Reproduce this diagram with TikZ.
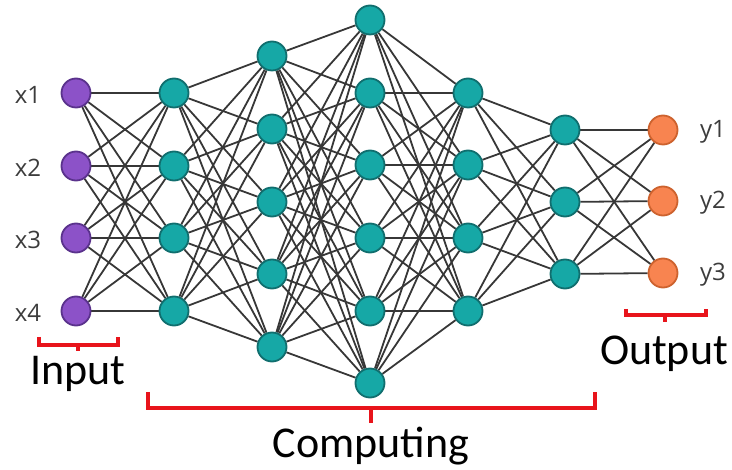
\documentclass[tikz,border=0pt]{standalone}
\usepackage{fontspec}
\setmainfont{Open Sans}
\newfontfamily\calfont{Carlito}
\definecolor{tealfill}{RGB}{22,168,166}
\definecolor{tealline}{RGB}{16,110,110}
\definecolor{purfill}{RGB}{140,82,200}
\definecolor{purline}{RGB}{90,50,140}
\definecolor{orfill}{RGB}{248,132,80}
\definecolor{orline}{RGB}{205,98,46}
\definecolor{edgecol}{RGB}{55,55,55}
\definecolor{brackred}{RGB}{232,20,27}
\definecolor{labcol}{RGB}{60,60,60}
\pgfdeclarelayer{bg}
\pgfsetlayers{bg,main}
\begin{document}
\begin{tikzpicture}[x=1pt,y=-1pt,
  neuron/.style={circle,minimum size=29pt,inner sep=0pt,line width=1.8pt},
  inp/.style={neuron,fill=purfill,draw=purline},
  hid/.style={neuron,fill=tealfill,draw=tealline},
  outp/.style={neuron,fill=orfill,draw=orline},
  link/.style={draw=edgecol,line width=1.8pt},
  lab/.style={font=\fontsize{24}{26}\selectfont,text=labcol,anchor=base,inner sep=0pt},
  big/.style={font=\calfont\fontsize{44}{48}\selectfont,text=black,anchor=base,inner sep=0pt},
  brack/.style={draw=brackred,line width=3.2pt}]
\useasboundingbox (0,0) rectangle (732,470);
% input layer
\foreach \i/\y in {1/93,2/166,3/238,4/311} \node[inp] (a\i) at (76,\y) {};
% hidden 1
\foreach \i/\y in {1/93,2/166,3/238,4/311} \node[hid] (b\i) at (174,\y) {};
% hidden 2
\foreach \i/\y in {1/56,2/129,3/202,4/274,5/347} \node[hid] (c\i) at (272,\y) {};
% hidden 3
\foreach \i/\y in {1/20,2/93,3/165,4/238,5/311,6/383} \node[hid] (d\i) at (370,\y) {};
% hidden 4
\foreach \i/\y in {1/93,2/165,3/238,4/311} \node[hid] (e\i) at (468,\y) {};
% hidden 5
\foreach \i/\y in {1/130,2/202,3/274} \node[hid] (f\i) at (565,\y) {};
% output
\foreach \i/\y in {1/130,2/201,3/273} \node[outp] (g\i) at (663,\y) {};
% edges
\begin{pgfonlayer}{bg}
\foreach \i in {1,...,4} \foreach \j in {1,...,4} \path[link] (a\i) -- (b\j);
\foreach \i in {1,...,4} \foreach \j in {1,...,5} \path[link] (b\i) -- (c\j);
\foreach \i in {1,...,5} \foreach \j in {1,...,6} \path[link] (c\i) -- (d\j);
\foreach \i in {1,...,6} \foreach \j in {1,...,4} \path[link] (d\i) -- (e\j);
\foreach \i in {1,...,4} \foreach \j in {1,...,3} \path[link] (e\i) -- (f\j);
\foreach \i in {1,...,3} \foreach \j in {1,...,3} \path[link] (f\i) -- (g\j);
\end{pgfonlayer}
% labels
\foreach \i/\y in {1/104,2/177,3/249,4/322} \node[lab] (xl\i) at (28,\y) {x\i};
\foreach \i/\y in {1/138,2/209,3/281} \node[lab] (yl\i) at (713,\y) {y\i};
% brackets
\path[brack] (39,337) -- (39,345) -- (118,345) -- (118,337);
\path[brack] (78,345) -- (78,351);
\path[brack] (148,392) -- (148,408) -- (595,408) -- (595,392);
\path[brack] (371,408) -- (371,423);
\path[brack] (626,309) -- (626,315) -- (706,315) -- (706,309);
\path[brack] (665,315) -- (665,322);
\node[big] (tin) at (78,385) {Input};
\node[big] (tcomp) at (371,458) {Computing};
\node[big] (tout) at (664,365) {Output};
\end{tikzpicture}
\end{document}
